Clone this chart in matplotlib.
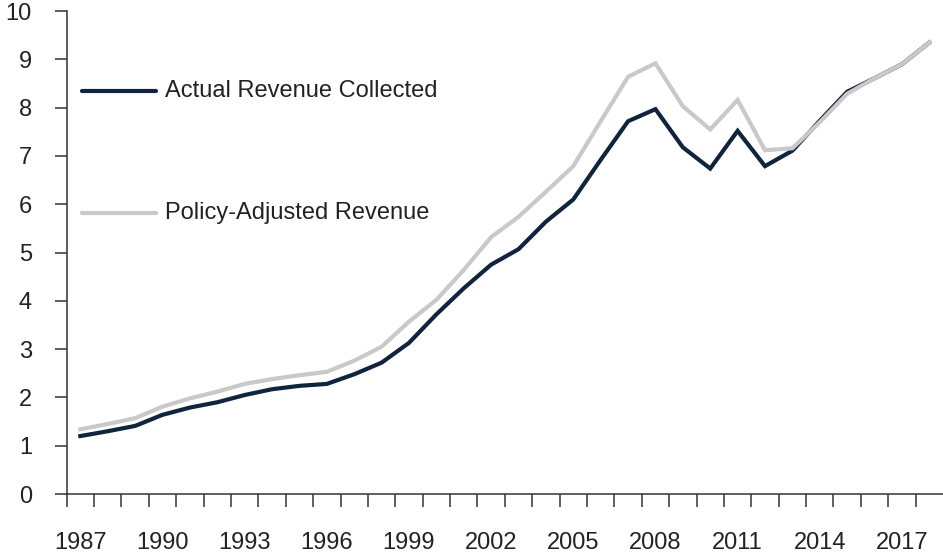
import matplotlib.pyplot as plt
import numpy as np

plt.rcParams['font.family'] = ['Liberation Sans', 'DejaVu Sans']

# Yearly revenue series, 1987-2018
years = list(range(1987, 2019))
actual = [1.20, 1.30, 1.41, 1.64, 1.79, 1.90, 2.05, 2.17, 2.24, 2.28,
          2.48, 2.72, 3.13, 3.72, 4.26, 4.75, 5.07, 5.64, 6.10, 6.92,
          7.72, 7.97, 7.18, 6.74, 7.52, 6.79, 7.11, 7.73, 8.33, 8.61,
          8.90, 9.35]
adjusted = [1.34, 1.45, 1.57, 1.81, 1.98, 2.12, 2.28, 2.38, 2.46, 2.53,
            2.76, 3.05, 3.57, 4.02, 4.64, 5.32, 5.74, 6.26, 6.79, 7.72,
            8.64, 8.92, 8.03, 7.55, 8.16, 7.12, 7.16, 7.70, 8.29, 8.61,
            8.90, 9.35]
series_names = ["Actual Revenue Collected", "Policy-Adjusted Revenue"]

navy = "#10243e"
grey = "#c9c9c9"
text_col = "#222222"
fs = 17

fig = plt.figure(figsize=(9.43, 5.57), dpi=100)
ax = fig.add_axes([0.0707, 0.1131, 0.9293, 0.8669])

x = np.arange(len(years))
ax.plot(x, actual, color=navy, lw=3, solid_joinstyle='miter', zorder=3)
ax.plot(x, adjusted, color=grey, lw=3, solid_joinstyle='miter', zorder=4)

ax.set_xlim(-0.5, len(years) - 0.5)
ax.set_ylim(0, 10)

# year labels every third year, tick marks between categories
ax.set_xticks(x[::3])
ax.set_xticklabels([str(y) for y in years[::3]])
ax.set_xticks(np.arange(len(years)) - 0.5, minor=True)
ax.tick_params(axis='x', which='major', length=0, pad=27.5,
               labelsize=fs, labelcolor=text_col)
ax.tick_params(axis='x', which='minor', length=9, width=1.1,
               direction='out', color='#333333')

ax.set_yticks(range(0, 11))
ax.tick_params(axis='y', length=9, width=1.1, color='#333333', pad=16,
               labelsize=fs, labelcolor=text_col)

for side in ['top', 'right']:
    ax.spines[side].set_visible(False)
for side in ['left', 'bottom']:
    ax.spines[side].set_color('#333333')
    ax.spines[side].set_linewidth(1.1)

# inline legend entries
legend_rows = [(series_names[0], navy, 8.34), (series_names[1], grey, 5.82)]
for name, col, yv in legend_rows:
    ax.plot([0.05, 2.75], [yv, yv], color=col, lw=3,
            solid_capstyle='round', clip_on=False)
    ax.text(3.10, yv, name, fontsize=fs, color=text_col,
            va='center', ha='left')

fig.savefig("out.png", dpi=100)
